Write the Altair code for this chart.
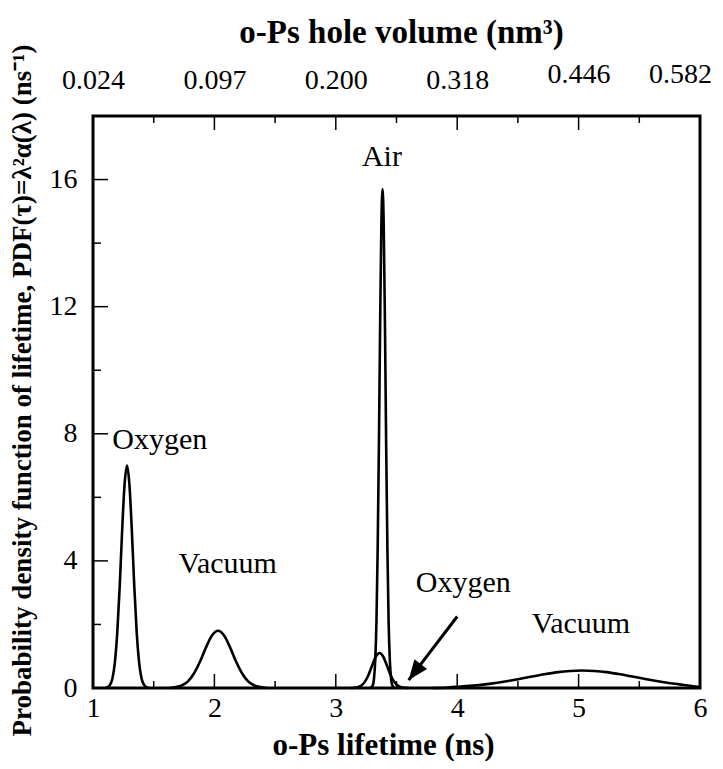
import math
import altair as alt
import pandas as pd

# ---------------- data ----------------
oxygen1_t = [1.10, 1.12, 1.14, 1.16, 1.18, 1.20, 1.22, 1.24, 1.26, 1.28, 1.30, 1.32, 1.34, 1.36, 1.38, 1.40, 1.42, 1.44, 1.46]
oxygen1_v = [0.0, 0.03, 0.1, 0.3, 0.8, 1.75, 3.2, 4.95, 6.4, 7.0, 6.4, 4.95, 3.2, 1.75, 0.8, 0.3, 0.1, 0.03, 0.0]

vacuum1_t = [1.63, 1.68, 1.73, 1.78, 1.83, 1.88, 1.93, 1.98, 2.03, 2.08, 2.13, 2.18, 2.23, 2.28, 2.33, 2.38, 2.43]
vacuum1_v = [0.0, 0.03, 0.08, 0.2, 0.45, 0.82, 1.27, 1.65, 1.8, 1.65, 1.27, 0.82, 0.45, 0.2, 0.08, 0.03, 0.0]

air_t = [3.285, 3.305, 3.315, 3.325, 3.335, 3.345, 3.355, 3.365, 3.375, 3.385, 3.395, 3.405, 3.415, 3.425, 3.435, 3.445, 3.455, 3.465, 3.485]
air_v = [0.0, 0.09, 0.31, 0.88, 2.1, 4.4, 7.6, 11.4, 14.5, 15.7, 14.5, 11.4, 7.6, 4.4, 2.1, 0.88, 0.31, 0.09, 0.0]

oxygen2_t = [3.12, 3.15, 3.18, 3.21, 3.24, 3.27, 3.30, 3.33, 3.36, 3.39, 3.42, 3.45, 3.48, 3.51, 3.54, 3.57, 3.60]
oxygen2_v = [0.0, 0.01, 0.024, 0.077, 0.2, 0.42, 0.72, 0.99, 1.1, 0.99, 0.72, 0.42, 0.2, 0.077, 0.024, 0.01, 0.0]

vacuum2_t = [3.80, 3.93, 4.03, 4.13, 4.23, 4.33, 4.43, 4.53, 4.63, 4.73, 4.83, 4.93, 5.03, 5.13, 5.23, 5.33, 5.43, 5.53, 5.63, 5.73, 5.83, 5.93, 6.00]
vacuum2_v = [0.0, 0.016, 0.047, 0.074, 0.113, 0.164, 0.226, 0.30, 0.37, 0.44, 0.50, 0.537, 0.55, 0.537, 0.50, 0.44, 0.37, 0.30, 0.226, 0.164, 0.113, 0.06, 0.03]

label_text = ["Oxygen", "Vacuum", "Air", "Oxygen", "Vacuum"]
label_t = [1.55, 2.11, 3.38, 4.05, 5.02]
label_v = [7.8, 3.9, 16.7, 3.3, 2.0]

arrow_t = [4.00, 3.60]
arrow_v = [2.25, 0.25]

x_ticks = [1, 2, 3, 4, 5, 6]
x_major_inner = [2, 3, 4, 5]
x_minor_inner = [1.5, 2.5, 3.5, 4.5, 5.5]
y_ticks = [0, 4, 8, 12, 16]
y_major_inner = [4, 8, 12, 16]
y_minor_inner = [2, 6, 10, 14]
top_labels = ["0.024", "0.097", "0.200", "0.318", "0.446", "0.582"]

X_DOMAIN = [1, 6]
Y_DOMAIN = [0, 18]
W, H = 607, 572
FONT = "Liberation Serif"

# ---------------- tables ----------------
rows = []
for name, ts, vs in [("oxygen1", oxygen1_t, oxygen1_v), ("vacuum1", vacuum1_t, vacuum1_v),
                     ("air", air_t, air_v), ("oxygen2", oxygen2_t, oxygen2_v),
                     ("vacuum2", vacuum2_t, vacuum2_v)]:
    for i, (t, v) in enumerate(zip(ts, vs)):
        rows.append({"series": name, "t": t, "v": v, "i": i})
curves = pd.DataFrame(rows)
labels = pd.DataFrame({"text": label_text, "t": label_t, "v": label_v})
arrow = pd.DataFrame({"t": arrow_t, "v": arrow_v, "i": [0, 1]})
tip = arrow.iloc[[1]]

xs = alt.Scale(domain=X_DOMAIN, nice=False, zero=False)
ys = alt.Scale(domain=Y_DOMAIN, nice=False, zero=False)

label_expr = "[" + ",".join("'%s'" % s for s in top_labels) + "][datum.value - 1]"

lines = alt.Chart(curves).mark_line(color="black", strokeWidth=2.6, interpolate="monotone").encode(
    x=alt.X("t:Q", scale=xs, axis=alt.Axis(
        orient="bottom", values=x_ticks, format="d", ticks=False, tickSize=0, domain=False, grid=False,
        labelFlush=False,
        labelFont=FONT, labelFontSize=28, labelColor="black", labelPadding=20, labelBaseline="middle",
        title="o-Ps lifetime (ns)", titleFont=FONT, titleFontSize=31, titleFontWeight="bold",
        titleColor="black", titleX=290, titleY=57, titleBaseline="middle")),
    y=alt.Y("v:Q", scale=ys, axis=alt.Axis(
        orient="left", values=y_ticks, format="d", ticks=False, tickSize=0, domain=False, grid=False,
        labelFont=FONT, labelFontSize=28, labelColor="black", labelPadding=16, labelBaseline="middle",
        title="Probability density function of lifetime, PDF(τ)=λ²α(λ) (ns⁻¹)",
        titleFont=FONT, titleFontSize=27, titleFontWeight="bold", titleColor="black",
        titleAngle=270, titleX=-71, titleY=274, titleBaseline="middle", titleAlign="center")),
    detail="series:N",
    order="i:Q",
)

top_axis = alt.Chart(pd.DataFrame({"t": x_ticks})).mark_point(opacity=0).encode(
    x=alt.X("t:Q", scale=xs, axis=alt.Axis(
        orient="top", values=x_ticks, labelExpr=label_expr, ticks=False, tickSize=0, domain=False, grid=False,
        labelFlush=False,
        labelFont=FONT, labelFontSize=28, labelColor="black", labelBaseline="middle",
        labelPadding={"condition": {"test": "datum.value >= 5", "value": 42}, "value": 36},
        labelOffset={"condition": {"test": "datum.value == 6", "value": -20}, "value": 0},
        title="o-Ps hole volume (nm³)", titleFont=FONT, titleFontSize=33, titleFontWeight="bold",
        titleColor="black", titleX=308, titleY=-84, titleBaseline="middle")),
    y=alt.value(0),
)

def vticks(vals, y0, y1):
    return alt.Chart(pd.DataFrame({"t": vals})).mark_rule(color="black", strokeWidth=1.5).encode(
        x=alt.X("t:Q", scale=xs, axis=None), y=alt.value(y0), y2=alt.value(y1))

def hticks(vals, x0, x1):
    return alt.Chart(pd.DataFrame({"v": vals})).mark_rule(color="black", strokeWidth=1.5).encode(
        y=alt.Y("v:Q", scale=ys, axis=None), x=alt.value(x0), x2=alt.value(x1))

tick_layers = [
    vticks(x_major_inner, H, H - 14), vticks(x_minor_inner, H, H - 7),
    vticks(x_major_inner, 0, 14), vticks(x_minor_inner, 0, 7),
    hticks(y_major_inner, 0, 15), hticks(y_minor_inner, 0, 8),
]

texts = alt.Chart(labels).mark_text(font=FONT, fontSize=30, color="black", baseline="middle").encode(
    x=alt.X("t:Q", scale=xs, axis=None),
    y=alt.Y("v:Q", scale=ys, axis=None),
    text="text:N",
)

shaft = alt.Chart(arrow).mark_line(color="black", strokeWidth=3).encode(
    x=alt.X("t:Q", scale=xs, axis=None),
    y=alt.Y("v:Q", scale=ys, axis=None),
    order="i:Q",
)

# arrowhead direction from the pixel geometry of the shaft
dx = (arrow_t[1] - arrow_t[0]) * W / (X_DOMAIN[1] - X_DOMAIN[0])
dy = -(arrow_v[1] - arrow_v[0]) * H / (Y_DOMAIN[1] - Y_DOMAIN[0])
angle = (math.degrees(math.atan2(dx, -dy)) + 360) % 360

head = alt.Chart(tip).mark_point(
    shape="M0,0 L0.4,1 L-0.4,1 Z", filled=True, color="black", opacity=1,
    size=1600, angle=angle, strokeWidth=0,
).encode(
    x=alt.X("t:Q", scale=xs, axis=None),
    y=alt.Y("v:Q", scale=ys, axis=None),
)

chart = alt.layer(lines, top_axis, *tick_layers, texts, shaft, head).resolve_axis(
    x="independent", y="independent"
).properties(
    width=W, height=H,
    padding={"left": 85, "top": 108, "right": 15, "bottom": 73},
    autosize=alt.AutoSizeParams(type="none"),
    background="white",
).configure_view(stroke="black", strokeWidth=3)

chart.save("out.html", embed_options={"renderer": "svg", "actions": False})
